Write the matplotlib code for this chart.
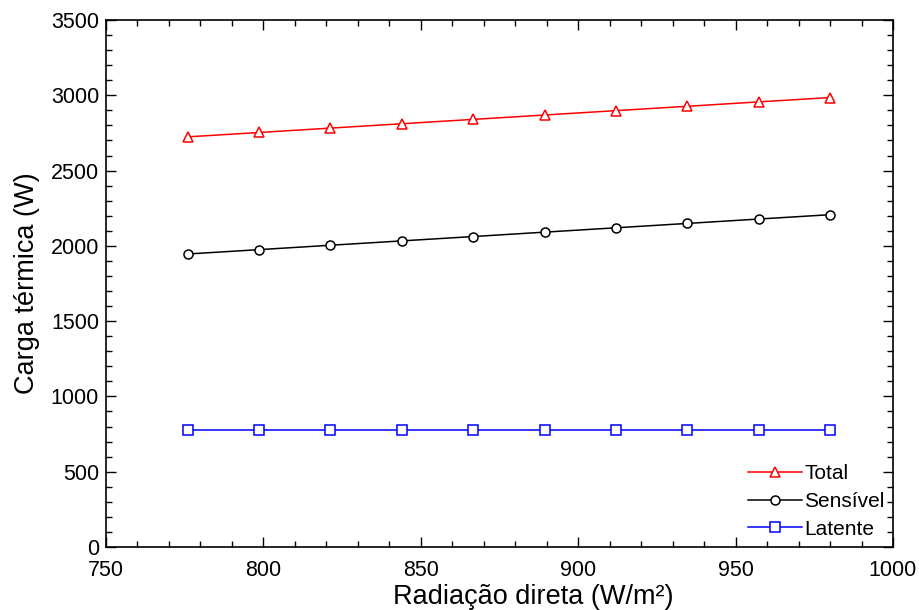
import matplotlib
matplotlib.use("Agg")
import matplotlib.pyplot as plt
from matplotlib.ticker import MultipleLocator

plt.rcParams['font.family'] = ['Liberation Sans', 'DejaVu Sans']

radiacao = [776, 798.7, 821.3, 844, 866.7, 889.3, 912, 934.7, 957.3, 980]
sensivel = [1946, 1975, 2004, 2033, 2062, 2091, 2120, 2149, 2178, 2207]
latente = [778, 778, 778, 778, 778, 778, 778, 778, 778, 778]
total = [2724, 2753, 2782, 2811, 2840, 2869, 2898, 2927, 2956, 2985]

fig = plt.figure(figsize=(9.2, 6.1), dpi=100)
ax = fig.add_axes([106/920, 1-547/610, (893-106)/920, (547-20)/610])

mk = dict(markerfacecolor='white', markersize=6.5, markeredgewidth=1.1, linewidth=1.1)
ax.plot(radiacao, total, color='#ff0000', marker='^', label='Total', **mk)
ax.plot(radiacao, sensivel, color='black', marker='o', label='Sensível', **mk)
ax.plot(radiacao, latente, color='#0000ff', marker='s', label='Latente', **mk)

ax.set_xlim(750, 1000)
ax.set_ylim(0, 3500)
ax.xaxis.set_major_locator(MultipleLocator(50))
ax.xaxis.set_minor_locator(MultipleLocator(10))
ax.yaxis.set_major_locator(MultipleLocator(500))
ax.yaxis.set_minor_locator(MultipleLocator(100))
ax.tick_params(which='both', direction='in', top=True, right=True, labelsize=15.5)
ax.tick_params(which='major', length=7, width=1)
ax.tick_params(which='minor', length=4, width=1)
ax.tick_params(axis='x', pad=9)
ax.tick_params(axis='y', pad=5)
for s in ax.spines.values():
    s.set_linewidth(1.2)

ax.set_xlabel('Radiação direta (W/m²)', fontsize=19.5)
ax.xaxis.set_label_coords((533-106)/787, -0.07, transform=ax.transAxes)
ax.xaxis.label.set_va('top')
ax.set_ylabel('Carga térmica (W)', fontsize=19.5, labelpad=8)

ax.legend(loc='lower right', frameon=False, fontsize=15, numpoints=1,
          handlelength=2.6, handletextpad=0.1, labelspacing=0.42,
          borderaxespad=0.0)

fig.savefig('out.png', dpi=100)
